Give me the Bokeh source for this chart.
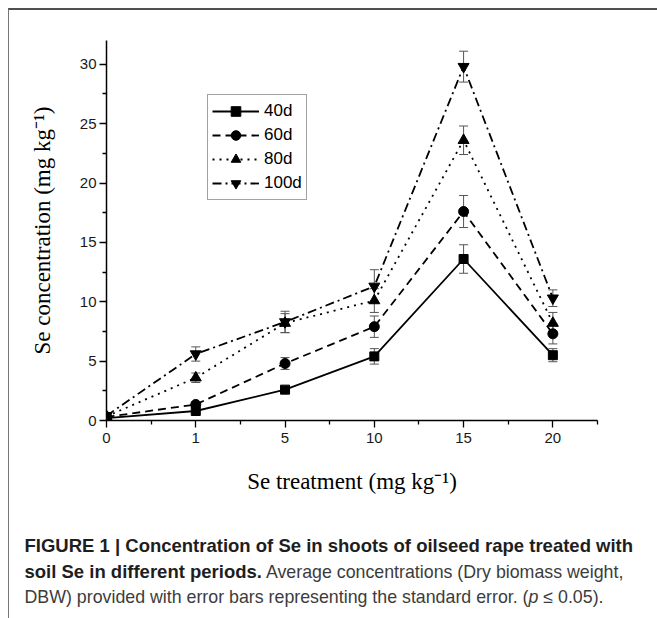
from bokeh.plotting import figure
from bokeh.layouts import column
from bokeh.models import (Range1d, FixedTicker, Whisker, ColumnDataSource, Legend,
                          LegendItem, TeeHead, Div)
from bokeh.embed import file_html
from bokeh.resources import INLINE

# ---------------- data ----------------
treatments = ["0", "1", "5", "10", "15", "20"]
periods = ["40d", "60d", "80d", "100d"]
d40 = [0.2, 0.8, 2.6, 5.4, 13.6, 5.5]
d40_se = [0.1, 0.15, 0.2, 0.65, 1.2, 0.55]
d60 = [0.3, 1.35, 4.8, 7.9, 17.6, 7.3]
d60_se = [0.1, 0.2, 0.5, 0.9, 1.35, 0.85]
d80 = [0.35, 3.6, 8.2, 10.1, 23.6, 8.2]
d80_se = [0.1, 0.4, 0.8, 1.0, 1.2, 0.9]
d100 = [0.4, 5.6, 8.3, 11.3, 29.8, 10.3]
d100_se = [0.15, 0.6, 0.9, 1.4, 1.3, 0.7]
y_ticks = [0, 5, 10, 15, 20, 25, 30]
y_minor = [2.5, 7.5, 12.5, 17.5, 22.5, 27.5]

caption_bold_1 = "FIGURE 1 | Concentration of Se in shoots of oilseed rape treated with"
caption_bold_2 = "soil Se in different periods."
caption_reg_2 = "Average concentrations (Dry biomass weight,"
caption_reg_3 = "DBW) provided with error bars representing the standard error. ("
caption_ital_3 = "p"
caption_end_3 = " \u2264 0.05)."

series = [d40, d60, d80, d100]
errors = [d40_se, d60_se, d80_se, d100_se]
markers = ["square", "circle", "triangle", "inverted_triangle"]
msizes = [9, 10, 11, 11]
dashes = ["solid", "8 5", "2 5", "9 4 2 4"]

xs = list(range(len(treatments)))

p = figure(width=648, height=510, output_backend="svg", toolbar_location=None,
           x_range=Range1d(0, 5.5), y_range=Range1d(0, 32),
           min_border_left=97, min_border_right=60, min_border_top=30,
           min_border_bottom=100)
p.xgrid.visible = False
p.ygrid.visible = False
p.outline_line_color = None
p.background_fill_color = "white"
p.border_fill_color = "white"

for ax in (p.xaxis[0], p.yaxis[0]):
    ax.axis_line_color = "black"
    ax.axis_line_width = 1.5
    ax.major_tick_line_color = "black"
    ax.minor_tick_line_color = "black"
    ax.major_tick_line_width = 1.3
    ax.minor_tick_line_width = 1.3
    ax.major_tick_out = 7
    ax.major_tick_in = 0
    ax.minor_tick_out = 4
    ax.minor_tick_in = 0
    ax.major_label_text_font = "Liberation Sans"
    ax.major_label_text_font_size = "15px"
    ax.major_label_text_color = "#1a1a1a"
    ax.axis_label_text_font = "Liberation Serif"
    ax.axis_label_text_font_size = "23px"
    ax.axis_label_text_font_style = "normal"
    ax.axis_label_text_color = "black"

p.xaxis.ticker = FixedTicker(ticks=xs, minor_ticks=[i + 0.5 for i in xs])
p.xaxis.major_label_overrides = {i: t for i, t in enumerate(treatments)}
p.xaxis.major_label_standoff = 5
p.xaxis.axis_label = "Se treatment (mg kg\u207b\u00b9)"
p.xaxis.axis_label_standoff = 23

p.yaxis.ticker = FixedTicker(ticks=y_ticks, minor_ticks=y_minor)
p.yaxis.major_label_standoff = 3
p.yaxis.axis_label = "Se concentration (mg kg\u207b\u00b9)"
p.yaxis.axis_label_standoff = 22

items = []
for name, ys, es, mk, ms, dash in zip(periods, series, errors, markers, msizes, dashes):
    src = ColumnDataSource(dict(x=xs, y=ys,
                                lo=[a - b for a, b in zip(ys, es)],
                                hi=[a + b for a, b in zip(ys, es)]))
    w = Whisker(source=src, base="x", lower="lo", upper="hi",
                line_color="#555555", line_width=1,
                upper_head=TeeHead(size=9, line_color="#555555", line_width=1),
                lower_head=TeeHead(size=9, line_color="#555555", line_width=1))
    p.add_layout(w)
    lr = p.line("x", "y", source=src, line_color="black", line_width=1.8,
                line_dash=dash)
    sr = p.scatter("x", "y", source=src, marker=mk, size=ms,
                   fill_color="black", line_color="black")
    items.append(LegendItem(label=name, renderers=[lr, sr]))

legend = Legend(items=items, location=(101, 220))
legend.label_text_font = "Liberation Sans"
legend.label_text_font_size = "17px"
legend.label_text_color = "black"
legend.glyph_width = 47
legend.glyph_height = 24
legend.label_height = 24
legend.spacing = 0
legend.padding = 4
legend.label_standoff = 5
legend.border_line_color = "#444444"
legend.border_line_width = 1.5
legend.background_fill_alpha = 1
legend.margin = 0
p.add_layout(legend)

# ---------------- caption ----------------
bold_span = ('<span style="font-weight:bold;font-size:18.5px;color:#1e1e1e;">%s</span>')
html = (
    '<div style="font-family:\'Liberation Sans\',Arial,sans-serif;font-size:17.8px;'
    'line-height:25px;color:#3c3c3c;padding-left:15.5px;padding-top:12.6px;'
    'white-space:nowrap;margin:0;">'
    + bold_span % caption_bold_1 + '<br>'
    + bold_span % caption_bold_2 + ' ' + caption_reg_2 + '<br>'
    + caption_reg_3 + '<i>' + caption_ital_3 + '</i>' + caption_end_3
    + '</div>'
)
cap = Div(text=html, width=648, height=98, margin=(0, 0, 0, 0))

layout = column(p, cap, spacing=0,
                styles={"margin-left": "8px", "margin-top": "8px",
                        "border-left": "1px solid #777777",
                        "border-top": "2px solid #505050"})

open("out.html", "w").write(file_html(layout, INLINE))
